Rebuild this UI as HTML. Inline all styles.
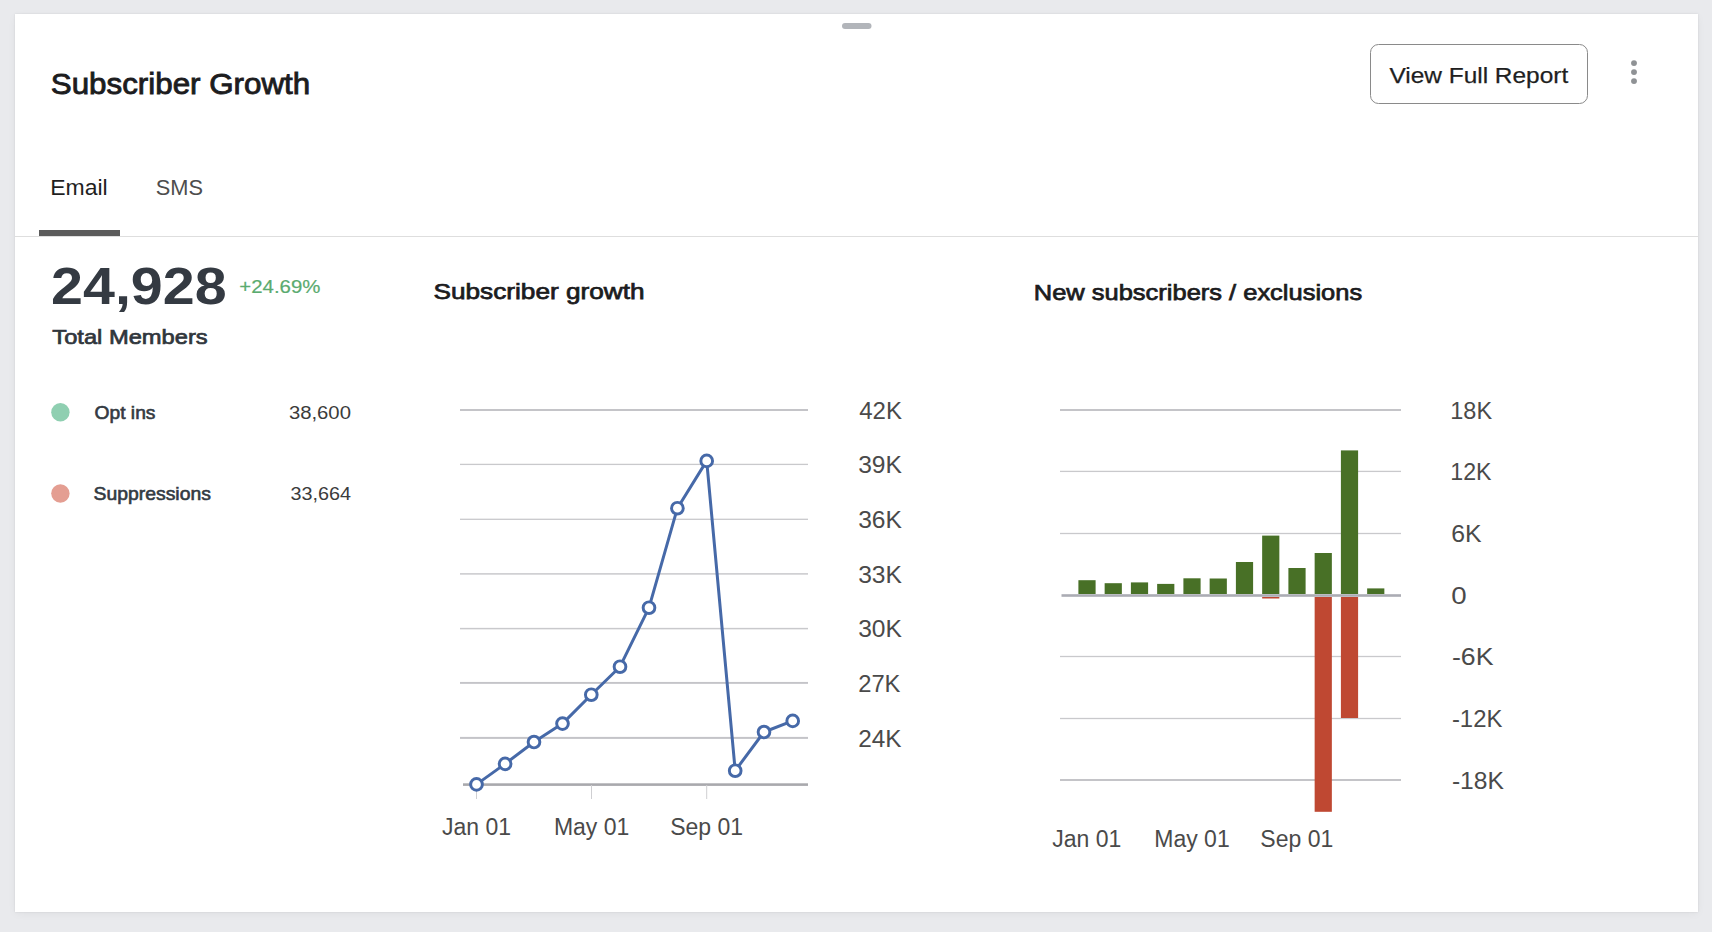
<!DOCTYPE html>
<html><head><meta charset="utf-8"><title>Subscriber Growth</title><style>
html,body{margin:0;padding:0;width:1712px;height:932px;overflow:hidden;background:#e9eaed;}
.card{position:absolute;left:15px;top:14px;width:1683px;height:898px;background:#fff;box-shadow:0 0 2px rgba(0,0,0,0.09), 0 2px 8px rgba(0,0,0,0.045);}
svg{position:absolute;left:0;top:0;font-family:"Liberation Sans", sans-serif;}
</style></head><body>
<div class="card"></div>
<svg width="1712" height="932" viewBox="0 0 1712 932">
<rect x="842" y="23" width="29.5" height="6" rx="3" fill="#b2b5ba"/>
<text x="50.8" y="94.3" font-size="30" font-weight="400" fill="#1c1c1e" stroke="#1c1c1e" stroke-width="0.9" textLength="259.44" lengthAdjust="spacingAndGlyphs">Subscriber Growth</text>
<rect x="1370.5" y="44.5" width="217" height="59" rx="8" fill="#fff" stroke="#8a8a8a" stroke-width="1"/>
<text x="1389.4" y="82.7" font-size="22.8" font-weight="400" fill="#1f1f1f" stroke="#1f1f1f" stroke-width="0.25" textLength="178.83" lengthAdjust="spacingAndGlyphs">View Full Report</text>
<circle cx="1634" cy="63.1" r="2.95" fill="#8f9295"/>
<circle cx="1634" cy="72.1" r="2.95" fill="#8f9295"/>
<circle cx="1634" cy="81.1" r="2.95" fill="#8f9295"/>
<text x="50.2" y="195.2" font-size="21.6" font-weight="400" fill="#1f1f1f" textLength="57.5" lengthAdjust="spacingAndGlyphs">Email</text>
<text x="155.8" y="195.2" font-size="21.6" font-weight="400" fill="#4d4d4d" textLength="47.3" lengthAdjust="spacingAndGlyphs">SMS</text>
<rect x="39" y="230" width="81" height="6" fill="#5b5b5b"/>
<rect x="15" y="236" width="1683" height="1" fill="#dedede"/>
<text x="51.1" y="304.3" font-size="51" font-weight="700" fill="#343a42" textLength="175.5" lengthAdjust="spacingAndGlyphs">24,928</text>
<text x="239.3" y="292.9" font-size="18" font-weight="400" fill="#5aab6f" stroke="#5aab6f" stroke-width="0.2" textLength="81.06" lengthAdjust="spacingAndGlyphs">+24.69%</text>
<text x="52.3" y="343.7" font-size="20.8" font-weight="400" fill="#30363c" stroke="#30363c" stroke-width="0.7" textLength="155.39" lengthAdjust="spacingAndGlyphs">Total Members</text>
<circle cx="60.4" cy="412.2" r="9.2" fill="#8fcfb1"/>
<circle cx="60.4" cy="493.5" r="9.2" fill="#e49e92"/>
<text x="94.6" y="419.3" font-size="17.8" font-weight="400" fill="#333a42" stroke="#333a42" stroke-width="0.6" textLength="60.84" lengthAdjust="spacingAndGlyphs">Opt ins</text>
<text x="93.6" y="499.7" font-size="17.8" font-weight="400" fill="#333a42" stroke="#333a42" stroke-width="0.6" textLength="117.25" lengthAdjust="spacingAndGlyphs">Suppressions</text>
<text x="288.9" y="419.3" font-size="18" font-weight="400" fill="#3b3b3b" textLength="62.06" lengthAdjust="spacingAndGlyphs">38,600</text>
<text x="290.4" y="499.7" font-size="18" font-weight="400" fill="#3b3b3b" textLength="60.56" lengthAdjust="spacingAndGlyphs">33,664</text>
<text x="433.5" y="299.4" font-size="22.6" font-weight="400" fill="#1c1c1e" stroke="#1c1c1e" stroke-width="0.75" textLength="211.09" lengthAdjust="spacingAndGlyphs">Subscriber growth</text>
<rect x="460" y="409.0" width="348" height="2" fill="#c4c4c8"/>
<text x="859.2" y="418.8" font-size="23.2" font-weight="400" fill="#4a4a4a" textLength="42.77" lengthAdjust="spacingAndGlyphs">42K</text>
<rect x="460" y="463.75" width="348" height="1.3" fill="#c9c9cc"/>
<text x="858.2" y="473.2" font-size="23.2" font-weight="400" fill="#4a4a4a" textLength="43.77" lengthAdjust="spacingAndGlyphs">39K</text>
<rect x="460" y="518.65" width="348" height="1.3" fill="#c9c9cc"/>
<text x="858.2" y="528.0999999999999" font-size="23.2" font-weight="400" fill="#4a4a4a" textLength="43.77" lengthAdjust="spacingAndGlyphs">36K</text>
<rect x="460" y="573.15" width="348" height="1.5" fill="#c9c9cc"/>
<text x="858.2" y="582.6999999999999" font-size="23.2" font-weight="400" fill="#4a4a4a" textLength="43.77" lengthAdjust="spacingAndGlyphs">33K</text>
<rect x="460" y="627.85" width="348" height="1.5" fill="#c9c9cc"/>
<text x="858.2" y="637.4" font-size="23.2" font-weight="400" fill="#4a4a4a" textLength="43.77" lengthAdjust="spacingAndGlyphs">30K</text>
<rect x="460" y="681.9499999999999" width="348" height="1.9" fill="#c4c4c8"/>
<text x="858.2" y="691.6999999999999" font-size="23.2" font-weight="400" fill="#4a4a4a" textLength="42.27" lengthAdjust="spacingAndGlyphs">27K</text>
<rect x="460" y="736.9" width="348" height="2" fill="#c4c4c8"/>
<text x="858.2" y="746.6999999999999" font-size="23.2" font-weight="400" fill="#4a4a4a" textLength="43.27" lengthAdjust="spacingAndGlyphs">24K</text>
<rect x="463" y="783.3" width="345" height="2.6" fill="#a9a9ad"/>
<rect x="476.0" y="785" width="1" height="14" fill="#cfcfd2"/>
<rect x="591.0" y="785" width="1" height="14" fill="#cfcfd2"/>
<rect x="706.2" y="785" width="1" height="14" fill="#cfcfd2"/>
<text x="476.5" y="835.1" font-size="23" font-weight="400" fill="#4a4a4a" text-anchor="middle">Jan 01</text>
<text x="591.6" y="835.1" font-size="23" font-weight="400" fill="#4a4a4a" text-anchor="middle">May 01</text>
<text x="706.6" y="835.1" font-size="23" font-weight="400" fill="#4a4a4a" text-anchor="middle">Sep 01</text>
<path d="M476.5,784.4 L505.1,763.9 L534,742 L562.5,723.6 L591.3,694.7 L620,666.7 L649,607.7 L677.4,508.2 L706.7,460.9 L735.2,770.7 L764,732 L792.7,720.9" fill="none" stroke="#4669a8" stroke-width="3" stroke-linejoin="round"/>
<circle cx="476.5" cy="784.4" r="5.85" fill="#fff" stroke="#4669a8" stroke-width="2.95"/>
<circle cx="505.1" cy="763.9" r="5.85" fill="#fff" stroke="#4669a8" stroke-width="2.95"/>
<circle cx="534" cy="742" r="5.85" fill="#fff" stroke="#4669a8" stroke-width="2.95"/>
<circle cx="562.5" cy="723.6" r="5.85" fill="#fff" stroke="#4669a8" stroke-width="2.95"/>
<circle cx="591.3" cy="694.7" r="5.85" fill="#fff" stroke="#4669a8" stroke-width="2.95"/>
<circle cx="620" cy="666.7" r="5.85" fill="#fff" stroke="#4669a8" stroke-width="2.95"/>
<circle cx="649" cy="607.7" r="5.85" fill="#fff" stroke="#4669a8" stroke-width="2.95"/>
<circle cx="677.4" cy="508.2" r="5.85" fill="#fff" stroke="#4669a8" stroke-width="2.95"/>
<circle cx="706.7" cy="460.9" r="5.85" fill="#fff" stroke="#4669a8" stroke-width="2.95"/>
<circle cx="735.2" cy="770.7" r="5.85" fill="#fff" stroke="#4669a8" stroke-width="2.95"/>
<circle cx="764" cy="732" r="5.85" fill="#fff" stroke="#4669a8" stroke-width="2.95"/>
<circle cx="792.7" cy="720.9" r="5.85" fill="#fff" stroke="#4669a8" stroke-width="2.95"/>
<text x="1033.8" y="299.7" font-size="22.6" font-weight="400" fill="#1c1c1e" stroke="#1c1c1e" stroke-width="0.75" textLength="328.33" lengthAdjust="spacingAndGlyphs">New subscribers / exclusions</text>
<rect x="1060" y="409.0" width="341" height="2" fill="#c4c4c8"/>
<text x="1450.3" y="418.8" font-size="23.2" font-weight="400" fill="#4a4a4a" textLength="41.77" lengthAdjust="spacingAndGlyphs">18K</text>
<rect x="1060" y="470.75" width="341" height="1.3" fill="#c9c9cc"/>
<text x="1450.3" y="480.2" font-size="23.2" font-weight="400" fill="#4a4a4a" textLength="41.27" lengthAdjust="spacingAndGlyphs">12K</text>
<rect x="1060" y="532.85" width="341" height="1.3" fill="#c9c9cc"/>
<text x="1451.3" y="542.3" font-size="23.2" font-weight="400" fill="#4a4a4a" textLength="30.38" lengthAdjust="spacingAndGlyphs">6K</text>
<text x="1451.3" y="604.0999999999999" font-size="23.2" font-weight="400" fill="#4a4a4a" textLength="15.41" lengthAdjust="spacingAndGlyphs">0</text>
<rect x="1060" y="655.85" width="341" height="1.3" fill="#c9c9cc"/>
<text x="1451.9" y="665.3" font-size="23.2" font-weight="400" fill="#4a4a4a" textLength="41.59" lengthAdjust="spacingAndGlyphs">-6K</text>
<rect x="1060" y="717.85" width="341" height="1.3" fill="#c9c9cc"/>
<text x="1451.9" y="727.3" font-size="23.2" font-weight="400" fill="#4a4a4a" textLength="50.48" lengthAdjust="spacingAndGlyphs">-12K</text>
<rect x="1060" y="779.0" width="341" height="2" fill="#c4c4c8"/>
<text x="1451.9" y="788.8" font-size="23.2" font-weight="400" fill="#4a4a4a" textLength="51.98" lengthAdjust="spacingAndGlyphs">-18K</text>
<rect x="1078.4" y="580.2" width="17.2" height="13.799999999999955" fill="#487026"/>
<rect x="1104.65" y="583.2" width="17.2" height="10.799999999999955" fill="#487026"/>
<rect x="1130.9" y="582.4" width="17.2" height="11.600000000000023" fill="#487026"/>
<rect x="1157.15" y="583.9" width="17.2" height="10.100000000000023" fill="#487026"/>
<rect x="1183.4" y="578.3" width="17.2" height="15.700000000000045" fill="#487026"/>
<rect x="1209.65" y="578.5" width="17.2" height="15.5" fill="#487026"/>
<rect x="1235.9" y="562" width="17.2" height="32" fill="#487026"/>
<rect x="1262.15" y="535.6" width="17.2" height="58.39999999999998" fill="#487026"/>
<rect x="1262.15" y="597" width="17.2" height="1.5" fill="#bf4832"/>
<rect x="1288.4" y="568" width="17.2" height="26" fill="#487026"/>
<rect x="1314.65" y="553" width="17.2" height="41" fill="#487026"/>
<rect x="1314.65" y="597" width="17.2" height="214.79999999999995" fill="#bf4832"/>
<rect x="1340.9" y="450.4" width="17.2" height="143.60000000000002" fill="#487026"/>
<rect x="1340.9" y="597" width="17.2" height="121" fill="#bf4832"/>
<rect x="1367.15" y="588.4" width="17.2" height="5.600000000000023" fill="#487026"/>
<rect x="1061.5" y="594.2" width="339.5" height="2.6" fill="#abacb4"/>
<text x="1086.7" y="847" font-size="23" font-weight="400" fill="#4a4a4a" text-anchor="middle">Jan 01</text>
<text x="1192" y="847" font-size="23" font-weight="400" fill="#4a4a4a" text-anchor="middle">May 01</text>
<text x="1296.8" y="847" font-size="23" font-weight="400" fill="#4a4a4a" text-anchor="middle">Sep 01</text>
</svg>
</body></html>
